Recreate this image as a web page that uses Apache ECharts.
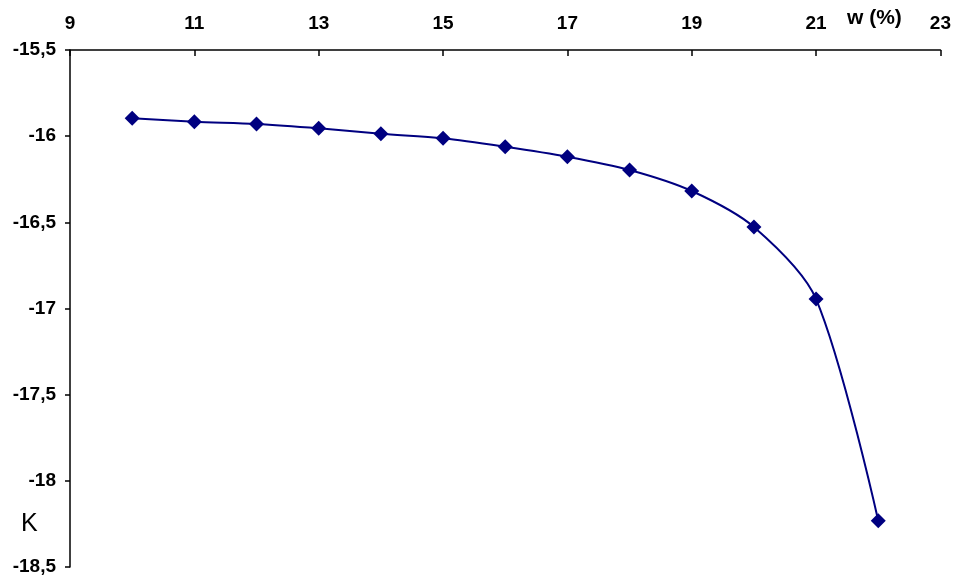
<!DOCTYPE html>
<html><head><meta charset="utf-8">
<script src="https://cdn.jsdelivr.net/npm/echarts@6/dist/echarts.min.js"></script>
<style>html,body{margin:0;padding:0;background:#fff}#c{width:954px;height:578px}</style>
</head><body><div id="c"></div>
<script>
const wValues = [10, 11, 12, 13, 14, 15, 16, 17, 18, 19, 20, 21, 22];
const kValues = [-15.896, -15.916, -15.929, -15.954, -15.986, -16.012, -16.061, -16.119, -16.196, -16.318, -16.527, -16.945, -18.232];
const xName = 'w (%)';
const yName = 'K';

const chart = echarts.init(document.getElementById('c'));
const font = '"Liberation Sans", Arial, sans-serif';
chart.setOption({
  animation: false,
  backgroundColor: '#fff',
  grid: { left: 70, top: 50, right: 12, bottom: 11, containLabel: false },
  xAxis: {
    type: 'value', position: 'top', min: 9, max: 23, interval: 2,
    splitLine: { show: false },
    axisLine: { lineStyle: { color: '#000', width: 1.5 } },
    axisTick: { inside: true, length: 6, lineStyle: { color: '#000', width: 1.5 } },
    axisLabel: { color: '#000', fontFamily: font, fontWeight: 'bold', fontSize: 19, margin: 17 }
  },
  yAxis: {
    type: 'value', min: -18.5, max: -15.5, interval: 0.5,
    splitLine: { show: false },
    axisLine: { show: true, lineStyle: { color: '#000', width: 1.5 } },
    axisTick: { show: true, length: 5, lineStyle: { color: '#000', width: 1.5 } },
    axisLabel: { color: '#000', fontFamily: font, fontWeight: 'bold', fontSize: 19, margin: 14,
      formatter: v => String(v).replace('.', ',') }
  },
  graphic: [
    { type: 'text', left: 21, top: 512, style: { text: yName, font: '25px ' + font, fill: '#000' } },
    { type: 'text', left: 847, top: 8, style: { text: xName, font: 'bold 21px ' + font, fill: '#000' } }
  ],
  series: [{
    type: 'line', smooth: 0.3,
    data: wValues.map((w, i) => [w, kValues[i]]),
    symbol: 'diamond', symbolSize: 15,
    lineStyle: { color: '#000080', width: 2 },
    itemStyle: { color: '#000080' }
  }]
});
</script></body></html>
